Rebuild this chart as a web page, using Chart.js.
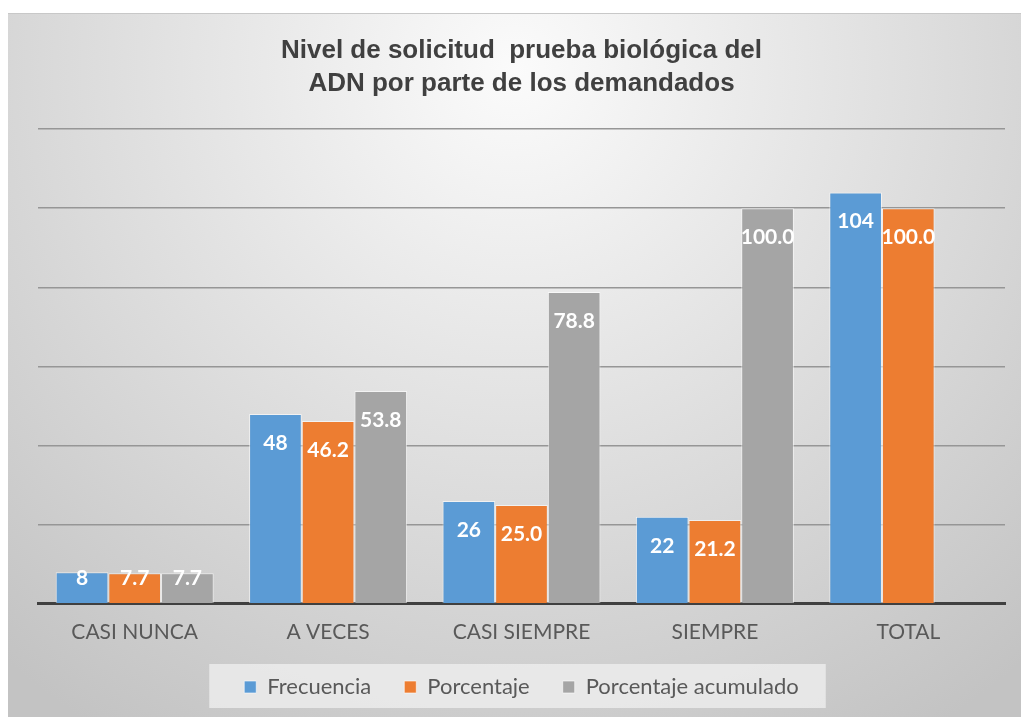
<!DOCTYPE html>
<html>
<head>
<meta charset="utf-8">
<script src="https://cdn.jsdelivr.net/npm/chart.js@4.4.1/dist/chart.umd.min.js"></script>
<style>
html,body{margin:0;padding:0;background:#fff;}
#wrap{position:absolute;left:0;top:0;width:1021px;height:717px;}
</style>
</head>
<body>
<div id="wrap"><canvas id="c" width="1021" height="717"></canvas></div>
<script>
const categories = ["CASI NUNCA", "A VECES", "CASI SIEMPRE", "SIEMPRE", "TOTAL"];
const frecuencia = [8, 48, 26, 22, 104];
const porcentaje = [7.7, 46.2, 25.0, 21.2, 100.0];
const acumulado = [7.7, 53.8, 78.8, 100.0, null];
const seriesNames = ["Frecuencia", "Porcentaje", "Porcentaje acumulado"];
const decimals = [0, 1, 1];
const titleLines = ["Nivel de solicitud  prueba biológica del", "ADN por parte de los demandados"];

const LEGEND_FONT = 22;
const LEGEND_CENTER_Y = 687;

const bgPlugin = {
  id: 'bg',
  afterLayout(chart) {
    const lg = chart.legend;
    if (!lg) return;
    const pad = lg.options.labels.padding;
    const ih = Math.max(LEGEND_FONT, lg.options.labels.boxHeight || LEGEND_FONT);
    const d = lg.top - (LEGEND_CENTER_Y - pad - ih / 2);
    lg.top -= d;
    lg.bottom -= d;
  },
  beforeDraw(chart) {
    const ctx = chart.ctx;
    ctx.save();
    ctx.fillStyle = '#ffffff';
    ctx.fillRect(0, 0, chart.width, chart.height);
    const g = ctx.createRadialGradient(515, 70, 0, 515, 70, 780);
    g.addColorStop(0, '#fbfbfb');
    g.addColorStop(1, '#c3c3c3');
    ctx.fillStyle = g;
    ctx.fillRect(8, 13, chart.width - 8, chart.height - 13);
    ctx.fillStyle = '#c8c8c8';
    ctx.fillRect(8, 13, chart.width - 8, 1);
    const lg = chart.legend;
    if (lg && lg.legendHitBoxes && lg.legendHitBoxes.length) {
      const hb = lg.legendHitBoxes;
      let l = Infinity, r = -Infinity;
      hb.forEach(b => { l = Math.min(l, b.left); r = Math.max(r, b.left + b.width); });
      const cy = hb[0].top + hb[0].height / 2;
      ctx.fillStyle = 'rgba(240,240,240,0.75)';
      ctx.fillRect(l - 35, cy - 23, (r - l) + 62, 44);
    }
    ctx.restore();
  }
};

const labelPlugin = {
  id: 'vals',
  afterDatasetsDraw(chart) {
    const ctx = chart.ctx;
    const base = chart.scales.y.getPixelForValue(0);
    ctx.save();
    ctx.font = 'bold 21px Lato, "Open Sans", sans-serif';
    ctx.fillStyle = '#ffffff';
    ctx.textAlign = 'center';
    ctx.textBaseline = 'middle';
    chart.data.datasets.forEach((ds, i) => {
      const meta = chart.getDatasetMeta(i);
      meta.data.forEach((el, j) => {
        const v = ds.data[j];
        if (v === null || v === undefined) return;
        const y = Math.min(el.y + 29, base - 26);
        ctx.fillText(v.toFixed(decimals[i]), el.x, y);
      });
    });
    ctx.restore();
  }
};

new Chart(document.getElementById('c'), {
  type: 'bar',
  data: {
    labels: categories,
    datasets: [
      { label: seriesNames[0], data: frecuencia, backgroundColor: '#5B9BD5' },
      { label: seriesNames[1], data: porcentaje, backgroundColor: '#ED7D31' },
      { label: seriesNames[2], data: acumulado, backgroundColor: '#A5A5A5' }
    ].map(d => Object.assign(d, { borderColor: 'rgba(255,255,255,0.6)', borderWidth: 1, categoryPercentage: 0.817, barPercentage: 1.0 }))
  },
  options: {
    responsive: false,
    animation: false,
    devicePixelRatio: 1,
    layout: { padding: { left: 38, right: 16, top: 20, bottom: -9 } },
    plugins: {
      title: {
        display: true,
        text: titleLines,
        color: '#404040',
        font: { family: '"Liberation Sans", Arial, sans-serif', size: 26, weight: 'bold', lineHeight: 1.29 },
        padding: { top: 14, bottom: 28 }
      },
      legend: {
        position: 'bottom',
        labels: {
          boxWidth: 12, boxHeight: 12,
          color: '#595959',
          font: { family: 'Lato, "Open Sans", sans-serif', size: LEGEND_FONT },
          padding: 33
        }
      },
      tooltip: { enabled: false }
    },
    scales: {
      x: {
        grid: { display: false, drawTicks: false },
        border: { display: true, color: '#404040', width: 3 },
        ticks: { color: '#595959', font: { family: 'Lato, "Open Sans", sans-serif', size: 21 }, padding: 16 }
      },
      y: {
        min: 0, max: 120,
        ticks: { stepSize: 20, display: false },
        grid: { color: '#969696', lineWidth: 1.5, drawTicks: false },
        border: { display: false }
      }
    }
  },
  plugins: [bgPlugin, labelPlugin]
});
</script>
</body>
</html>
